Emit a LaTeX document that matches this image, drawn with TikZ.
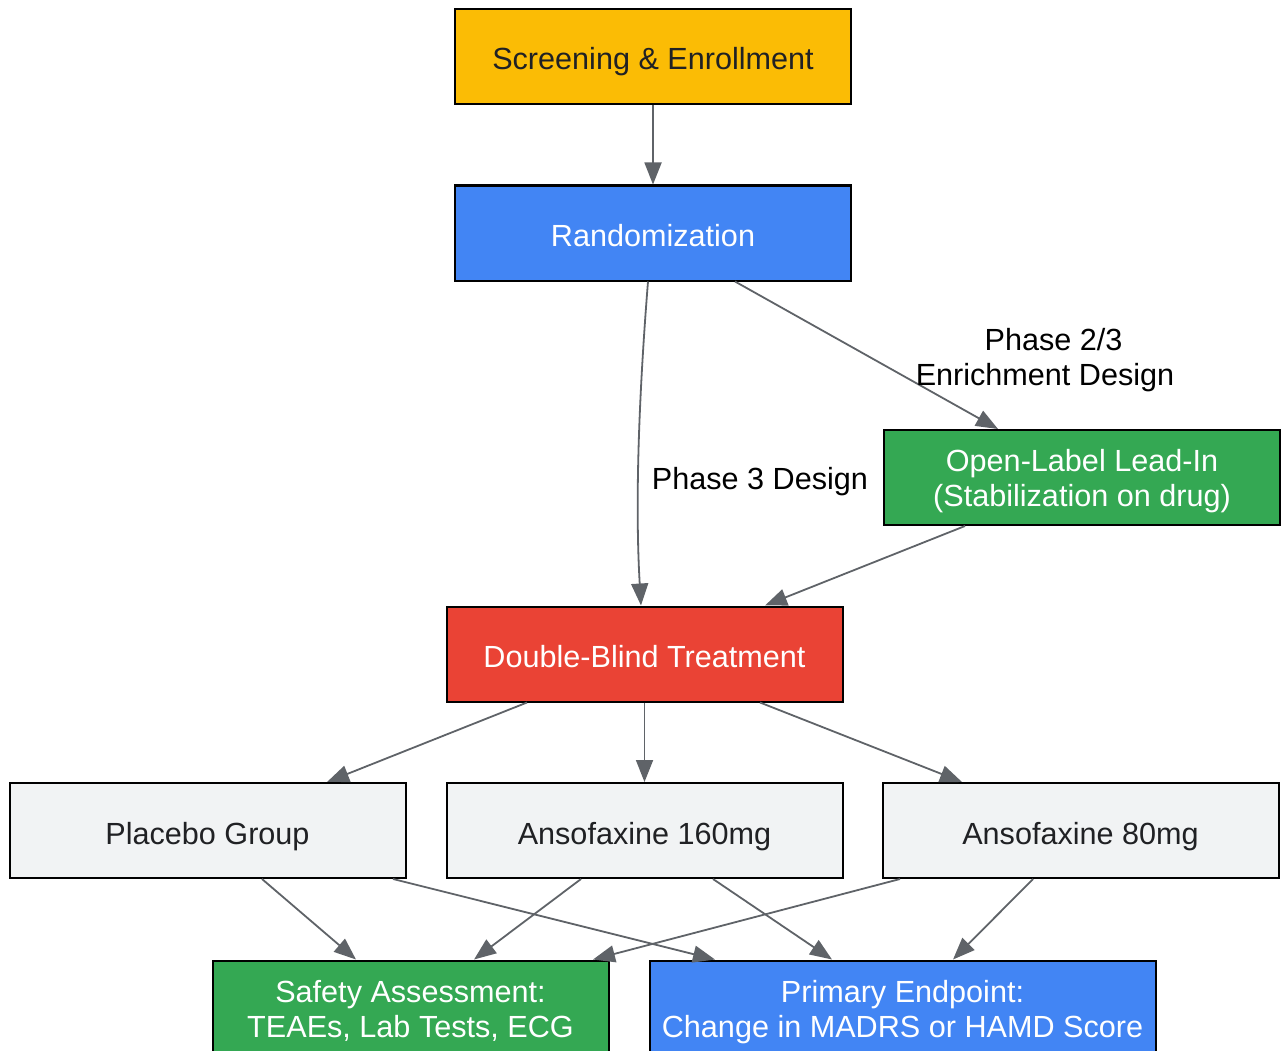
\documentclass[tikz,border=0pt]{standalone}
\usepackage{fontspec}
\setmainfont{Liberation Sans}
\usetikzlibrary{arrows.meta}
\definecolor{gyellow}{HTML}{FBBC05}
\definecolor{gblue}{HTML}{4285F4}
\definecolor{ggreen}{HTML}{34A853}
\definecolor{gred}{HTML}{EA4335}
\definecolor{glight}{HTML}{F1F3F4}
\definecolor{gtext}{HTML}{202124}
\definecolor{gedge}{HTML}{5F6368}
\newcommand{\onel}[1]{\raisebox{-6.5pt}[\height][\depth]{\begin{tabular}{@{}c@{}}#1\end{tabular}}}
\newcommand{\twol}[1]{\raisebox{-4.8pt}[\height][\depth]{\begin{tabular}{@{}c@{}}#1\end{tabular}}}
\tikzset{
  box/.style={draw=black, line width=2pt, minimum width=396pt, minimum height=95pt, inner sep=0pt, font=\fontsize{30.6}{35}\selectfont},
  darkbox/.style={box, text=gtext},
  whitebox/.style={box, text=white},
  conn/.style={draw=gedge, line width=1.8pt, -{Triangle[length=22pt,width=17pt]}},
  lbl/.style={align=center, text=black, inner sep=0pt, font=\fontsize{30.6}{35}\selectfont}
}
\begin{document}
\begin{tikzpicture}[x=1pt,y=-1pt]
\useasboundingbox (0,0) rectangle (1281,1051);
\node[darkbox, fill=gyellow] (scr) at (653,56.5) {\onel{Screening \& Enrollment}};
\node[whitebox, fill=gblue] (rand) at (653,233) {\onel{Randomization}};
\node[whitebox, fill=ggreen] (ol) at (1082,477.5) {\twol{Open-Label Lead-In\\(Stabilization on drug)}};
\node[whitebox, fill=gred] (db) at (644.5,654) {\onel{Double-Blind Treatment}};
\node[darkbox, fill=glight] (pl) at (207.5,830.5) {\onel{Placebo Group}};
\node[darkbox, fill=glight] (a160) at (644.5,830.5) {\onel{Ansofaxine 160mg}};
\node[darkbox, fill=glight] (a80) at (1080.5,830.5) {\onel{Ansofaxine 80mg}};
\node[whitebox, fill=ggreen] (saf) at (410.5,1008) {\twol{Safety Assessment:\\TEAEs, Lab Tests, ECG}};
\node[whitebox, fill=gblue, minimum width=506pt] (prim) at (902.5,1008) {\twol{Primary Endpoint:\\Change in MADRS or HAMD Score}};

\draw[conn] (scr.south) -- (rand.north);
\draw[conn] ([xshift=-5pt]rand.south) .. controls ([xshift=-13pt,yshift=-100pt]rand.south) and ([xshift=-10pt,yshift=110pt]db.north) .. ([xshift=-3.5pt]db.north);
\node[lbl] (l3) at (760,481.5) {Phase 3 Design};
\draw[conn] ([xshift=82pt]rand.south) -- ([xshift=-84pt]ol.north);
\node[lbl] (l23) at (1045,360.5) {\hspace*{17pt}Phase 2/3\\Enrichment Design};
\draw[conn] ([xshift=-117pt]ol.south) -- ([xshift=120.5pt]db.north);
\draw[conn] ([xshift=-117.5pt]db.south) -- ([xshift=119.5pt]pl.north);
\draw[conn] (db.south) -- (a160.north);
\draw[conn] ([xshift=115.5pt]db.south) -- ([xshift=-118.5pt]a80.north);
\draw[conn] ([xshift=54.5pt]pl.south) -- ([xshift=-54.5pt]saf.north);
\draw[conn] ([xshift=185.5pt]pl.south) -- ([xshift=-187.5pt]prim.north);
\draw[conn] ([xshift=-63.5pt]a160.south) -- ([xshift=63.5pt]saf.north);
\draw[conn] ([xshift=68.5pt]a160.south) -- ([xshift=-70.5pt]prim.north);
\draw[conn] ([xshift=-180.5pt]a80.south) -- ([xshift=182.5pt]saf.north);
\draw[conn] ([xshift=-47.5pt]a80.south) -- ([xshift=50.5pt]prim.north);
\end{tikzpicture}
\end{document}
